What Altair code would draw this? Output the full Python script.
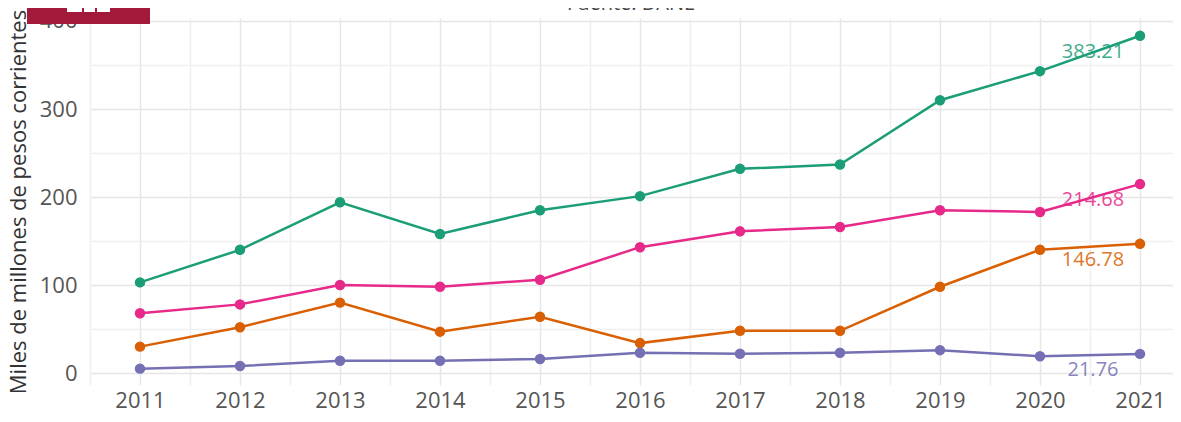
import altair as alt
import pandas as pd

years = [2011, 2012, 2013, 2014, 2015, 2016, 2017, 2018, 2019, 2020, 2021]
serie_verde = [103, 140, 194, 158, 185, 201, 232, 237, 310, 343, 383.21]
serie_rosa = [68, 78, 100, 98, 106, 143, 161, 166, 185, 183, 214.68]
serie_naranja = [30, 52, 80, 47, 64, 34, 48, 48, 98, 140, 146.78]
serie_morada = [5, 8, 14, 14, 16, 23, 22, 23, 26, 19, 21.76]

series_names = ["verde", "rosa", "naranja", "morada"]
series_values = [serie_verde, serie_rosa, serie_naranja, serie_morada]
series_colors = ["#1b9e77", "#e7298a", "#d95f02", "#7570b3"]

y_title = "Miles de millones de pesos corrientes"
source_text = "Fuente: DANE"
x_ticks = [2010.5 + 0.5 * i for i in range(22)]
y_ticks = [50 * i for i in range(9)]

rows = []
for name, vals in zip(series_names, series_values):
    for yr, v in zip(years, vals):
        rows.append({"year": yr, "value": v, "serie": name})
df = pd.DataFrame(rows)
last = df[df["year"] == years[-1]].copy()
last["label"] = last["value"].map(lambda v: f"{v:.2f}")

FONT = "Open Sans"
color = alt.Color("serie:N", scale=alt.Scale(domain=series_names, range=series_colors), legend=None)

x_enc = alt.X(
    "year:Q",
    scale=alt.Scale(domain=[2010.5, 2021.33], nice=False, zero=False),
    axis=alt.Axis(
        values=x_ticks,
        labelExpr="datum.value % 1 == 0 ? '' + datum.value : ''",
        title=None,
        ticks=False,
        domain=False,
        labelFontSize=22,
        labelFont=FONT,
        labelColor="#555555",
        labelPadding=5,
        gridColor={"condition": {"test": "datum.value % 1 == 0", "value": "#e6e6e6"}, "value": "#f0f0f0"},
        gridWidth=1.5,
    ),
)
y_enc = alt.Y(
    "value:Q",
    scale=alt.Scale(domain=[-13.6, 403.4], nice=False, zero=False),
    axis=alt.Axis(
        values=y_ticks,
        labelExpr="datum.value % 100 == 0 ? '' + datum.value : ''",
        title=y_title,
        titleFont=FONT,
        titleFontSize=22,
        titleFontWeight="normal",
        titleColor="#333333",
        titlePadding=9,
        ticks=False,
        domain=False,
        labelFontSize=22,
        labelFont=FONT,
        labelColor="#555555",
        labelPadding=13,
        gridColor={"condition": {"test": "datum.value % 100 == 0", "value": "#e6e6e6"}, "value": "#f0f0f0"},
        gridWidth=1.5,
    ),
)

base = alt.Chart(df)
lines = base.mark_line(strokeWidth=2.5).encode(x=x_enc, y=y_enc, color=color, detail="serie:N")
points = base.mark_circle(size=110, opacity=1).encode(x="year:Q", y="value:Q", color=color)
labels = alt.Chart(last).mark_text(
    font=FONT, fontSize=20, dx=-47, dy=16, align="center", baseline="middle", opacity=0.85
).encode(x="year:Q", y="value:Q", text="label:N", color=color)

one = pd.DataFrame({"k": [0]})
logo = alt.Chart(one).mark_rect(color="#a3193a").encode(
    x=alt.value(-63), x2=alt.value(60), y=alt.value(-18), y2=alt.value(6)
)
logo_w1 = alt.Chart(one).mark_rect(color="white").encode(
    x=alt.value(-23), x2=alt.value(-8), y=alt.value(-18), y2=alt.value(-6)
)
logo_w2 = alt.Chart(one).mark_rect(color="white").encode(
    x=alt.value(-6), x2=alt.value(5), y=alt.value(-18), y2=alt.value(-6)
)
logo_w3 = alt.Chart(one).mark_rect(color="white").encode(
    x=alt.value(7), x2=alt.value(20), y=alt.value(-18), y2=alt.value(-6)
)
source = alt.Chart(one).mark_text(
    font=FONT, fontSize=20, color="#444444", align="center", baseline="alphabetic"
).encode(x=alt.value(541), y=alt.value(-8), text=alt.value(source_text))

chart = alt.layer(lines, points, labels, logo, logo_w1, logo_w2, logo_w3, source).properties(
    width=1083,
    height=367,
    autosize=alt.AutoSizeParams(type="none"),
    padding={"left": 82, "top": 10, "right": 0, "bottom": 29},
).configure_view(stroke=None)

chart.save("out.html", embed_options={"renderer": "svg", "actions": False})
